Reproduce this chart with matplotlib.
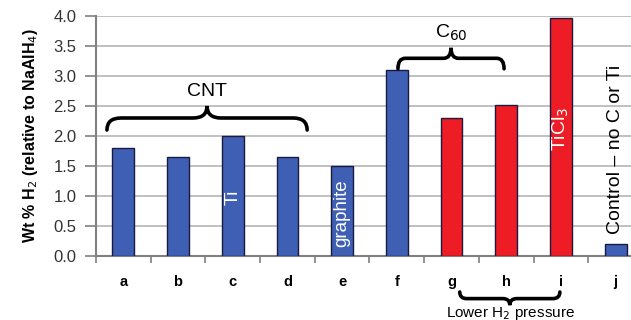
import numpy as np
import matplotlib
matplotlib.use("Agg")
import matplotlib.pyplot as plt
from matplotlib.path import Path
from matplotlib.patches import PathPatch

plt.rcParams['font.family'] = ['Liberation Sans', 'DejaVu Sans']

categories = ['a', 'b', 'c', 'd', 'e', 'f', 'g', 'h', 'i', 'j']
values = [1.80, 1.65, 2.00, 1.65, 1.50, 3.10, 2.30, 2.52, 3.96, 0.20]
groups = ['blue', 'blue', 'blue', 'blue', 'blue', 'blue', 'red', 'red', 'red', 'blue']
yticks = [0.0, 0.5, 1.0, 1.5, 2.0, 2.5, 3.0, 3.5, 4.0]

colors = {'blue': '#3F5FB5', 'red': '#EE1C24'}

W, H = 631, 320
fig = plt.figure(figsize=(W / 100, H / 100), dpi=100)
ax = fig.add_axes([96 / W, 1 - 256 / H, 547 / W, 240 / H])

x = np.arange(len(categories))
ax.bar(x, values, width=0.4, color=[colors[g] for g in groups],
       edgecolor='#1a1a40', linewidth=1.0, zorder=3)

ax.set_xlim(-0.5, len(categories) - 0.5)
ax.set_ylim(0, 4.0)
ax.set_yticks(yticks)
ax.set_yticklabels([f"{v:.1f}" for v in yticks], fontsize=12, color='#333333')
ax.yaxis.grid(True, color='#B5B5B5', linewidth=1.2, zorder=0)
ax.set_axisbelow(True)
ax.tick_params(axis='y', length=8, width=1.2, color='#808080', pad=6)

ax.set_xticks(x)
ax.set_xticklabels(categories, fontsize=10.5, fontweight='bold')
ax.set_xticks(np.arange(-0.5, len(categories), 1.0), minor=True)
ax.tick_params(axis='x', which='major', length=0, pad=14)
ax.tick_params(axis='x', which='minor', length=5, width=1.2, color='#808080', direction='out')

for s in ['top', 'right']:
    ax.spines[s].set_visible(False)
for s in ['left', 'bottom']:
    ax.spines[s].set_color('#808080')
    ax.spines[s].set_linewidth(1.5)

ax.set_ylabel('Wt % H$_2$ (relative to NaAlH$_4$)', fontsize=11.5, fontweight='bold', labelpad=10)


def brace(x0, x1, yend, ytip, clip=True):
    """Curly brace from x0 to x1; ends at yend, tip at ytip."""
    xm = (x0 + x1) / 2
    ymid = (yend + ytip) / 2
    r = (x1 - x0) * 0.07
    verts = [(x0, yend), (x0, ymid), (x0 + r, ymid),
             (xm - r, ymid), (xm, ymid), (xm, ytip),
             (xm, ymid), (xm + r, ymid),
             (x1 - r, ymid), (x1, ymid), (x1, yend)]
    codes = [Path.MOVETO, Path.CURVE3, Path.CURVE3,
             Path.LINETO, Path.CURVE3, Path.CURVE3,
             Path.CURVE3, Path.CURVE3,
             Path.LINETO, Path.CURVE3, Path.CURVE3]
    p = PathPatch(Path(verts, codes), fill=False, lw=2.6, edgecolor='black',
                  clip_on=clip, zorder=5, capstyle='round')
    ax.add_patch(p)


# CNT brace
brace(-0.30, 3.36, 2.10, 2.50)
ax.text(1.53, 2.75, 'CNT', ha='center', va='center', fontsize=14)
# C60 brace
brace(5.02, 6.96, 3.12, 3.47)
ax.text(5.99, 3.72, 'C$_{60}$', ha='center', va='center', fontsize=14)
# Lower H2 pressure brace (below axis)
brace(6.15, 7.98, -0.60, -0.82, clip=False)
ax.text(7.07, -0.96, 'Lower H$_2$ pressure', ha='center', va='center', fontsize=11,
        clip_on=False)

# In-bar labels
ax.text(2, 0.98, 'Ti', rotation=90, color='white', ha='center', va='center', fontsize=14)
ax.text(4, 0.72, 'graphite', rotation=90, color='white', ha='center', va='center', fontsize=13.5)
ax.text(8, 2.12, 'TiCl$_3$', rotation=90, color='white', ha='center', va='center', fontsize=14)
ax.text(9, 1.77, 'Control – no C or Ti', rotation=90, color='black', ha='center',
        va='center', fontsize=14)

fig.savefig('out.png', dpi=100)
